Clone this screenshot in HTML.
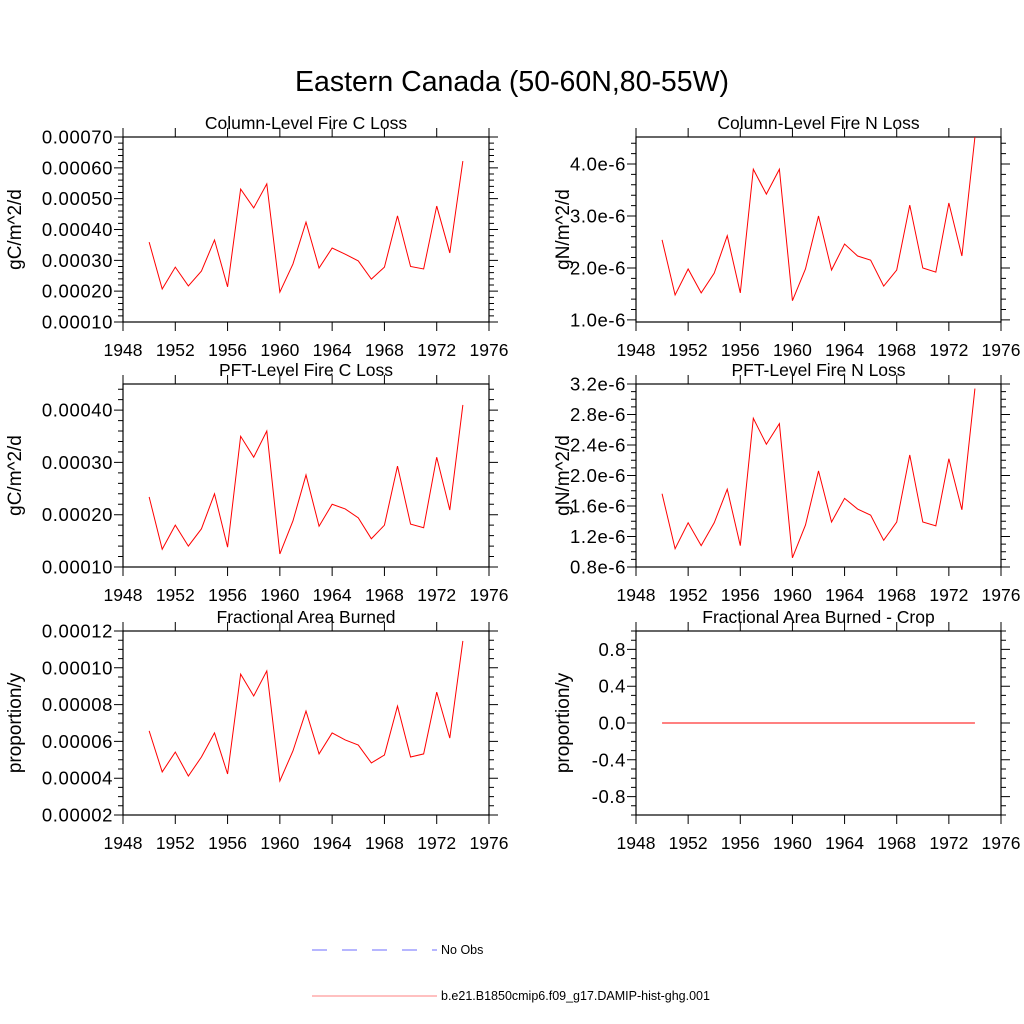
<!DOCTYPE html>
<html><head><meta charset="utf-8"><style>
body{margin:0;background:#fff}
svg{display:block;font-family:"Liberation Sans",sans-serif}
</style></head><body>
<svg id="c" width="1024" height="1024" viewBox="0 0 1024 1024">
<text x="512" y="91" text-anchor="middle" font-size="28.5">Eastern Canada (50-60N,80-55W)</text>
<g>
<line x1="312" y1="950" x2="437" y2="950" stroke="#6d6dff" stroke-width="1" stroke-dasharray="15,15"/>
<text x="441" y="954" font-size="12.5">No Obs</text>
<line x1="312" y1="996" x2="437" y2="996" stroke="#ff8080" stroke-width="1"/>
<text x="441" y="1000" font-size="12.5">b.e21.B1850cmip6.f09_g17.DAMIP-hist-ghg.001</text>
</g>
</svg>
<script>
const years=[1950,1951,1952,1953,1954,1955,1956,1957,1958,1959,1960,1961,1962,1963,1964,1965,1966,1967,1968,1969,1970,1971,1972,1973,1974];
const xTicks=[1948,1952,1956,1960,1964,1968,1972,1976];
const colC=[0.000359,0.000207,0.000278,0.000217,0.000265,0.000366,0.000214,0.000531,0.00047,0.000548,0.000197,0.000288,0.000424,0.000275,0.00034,0.00032,0.000298,0.000239,0.000278,0.000444,0.00028,0.000272,0.000476,0.000324,0.000622];
const colN=[2.54,1.48,1.98,1.52,1.9,2.62,1.52,3.9,3.42,3.9,1.37,1.98,3.0,1.96,2.46,2.23,2.15,1.65,1.96,3.21,2.0,1.92,3.25,2.23,4.52];
const pftC=[0.000234,0.000134,0.00018,0.00014,0.000173,0.00024,0.000138,0.00035,0.00031,0.00036,0.000125,0.000188,0.000276,0.000178,0.00022,0.000211,0.000194,0.000154,0.00018,0.000293,0.000182,0.000175,0.00031,0.000209,0.00041];
const pftN=[1.76,1.04,1.38,1.08,1.38,1.82,1.08,2.75,2.41,2.68,0.92,1.35,2.06,1.39,1.7,1.56,1.48,1.15,1.39,2.27,1.39,1.34,2.22,1.55,3.14];
const fab=[6.57,4.34,5.42,4.12,5.15,6.46,4.23,9.66,8.47,9.83,3.85,5.48,7.65,5.32,6.46,6.08,5.8,4.83,5.26,7.92,5.15,5.32,8.68,6.18,11.46];
const fabCrop=[0,0,0,0,0,0,0,0,0,0,0,0,0,0,0,0,0,0,0,0,0,0,0,0,0];
const ticksColC=["0.00010","0.00020","0.00030","0.00040","0.00050","0.00060","0.00070"];
const ticksColN=["1.0e-6","2.0e-6","3.0e-6","4.0e-6"];
const ticksPftC=["0.00010","0.00020","0.00030","0.00040"];
const ticksPftN=["0.8e-6","1.2e-6","1.6e-6","2.0e-6","2.4e-6","2.8e-6","3.2e-6"];
const ticksFab=["0.00002","0.00004","0.00006","0.00008","0.00010","0.00012"];
const ticksCrop=["-0.8","-0.4","0.0","0.4","0.8"];

const NS="http://www.w3.org/2000/svg";
const svg=document.getElementById('c');
function mk(tag,attrs,parent){const e=document.createElementNS(NS,tag);for(const k in attrs)e.setAttribute(k,attrs[k]);parent.appendChild(e);return e;}

const panels=[
 {id:'column-c',title:'Column-Level Fire C Loss',yl:'gC/m^2/d',x0:123,x1:489,y0:137,y1:322,ymin:0.0001,ymax:0.0007,tv:[0.0001,0.0002,0.0003,0.0004,0.0005,0.0006,0.0007],tl:ticksColC,minor:5,d:colC},
 {id:'column-n',title:'Column-Level Fire N Loss',yl:'gN/m^2/d',x0:636,x1:1001,y0:137,y1:322,ymin:0.96,ymax:4.52,tv:[1,2,3,4],tl:ticksColN,minor:5,d:colN},
 {id:'pft-c',title:'PFT-Level Fire C Loss',yl:'gC/m^2/d',x0:123,x1:489,y0:384,y1:567,ymin:0.0001,ymax:0.00045,tv:[0.0001,0.0002,0.0003,0.0004],tl:ticksPftC,minor:5,d:pftC},
 {id:'pft-n',title:'PFT-Level Fire N Loss',yl:'gN/m^2/d',x0:636,x1:1001,y0:384,y1:567,ymin:0.8,ymax:3.2,tv:[0.8,1.2,1.6,2.0,2.4,2.8,3.2],tl:ticksPftN,minor:4,d:pftN},
 {id:'area-burned',title:'Fractional Area Burned',yl:'proportion/y',x0:123,x1:489,y0:631,y1:815,ymin:2,ymax:12,tv:[2,4,6,8,10,12],tl:ticksFab,minor:4,d:fab},
 {id:'area-burned-crop',title:'Fractional Area Burned - Crop',yl:'proportion/y',x0:636,x1:1001,y0:631,y1:815,ymin:-1,ymax:1,tv:[-0.8,-0.4,0,0.4,0.8],tl:ticksCrop,minor:4,d:fabCrop}
];

panels.forEach(p=>{
 const g=mk('g',{},svg);
 
 
 const X=v=>p.x0+(v-1948)/(1976-1948)*(p.x1-p.x0);
 const Y=v=>p.y1-(v-p.ymin)/(p.ymax-p.ymin)*(p.y1-p.y0);
 const fr=mk('rect',{x:p.x0,y:p.y0,width:p.x1-p.x0,height:p.y1-p.y0,fill:'none',stroke:'#000','stroke-width':1.2},g);
 
 
 let path='';
 xTicks.forEach(yr=>{
  const x=X(yr);
  path+=`M${x},${p.y1}v9M${x},${p.y0}v-9`;
 });
 const step=p.tv[1]-p.tv[0];
 for(let k=-2;k<p.tv.length+2;k++){
  for(let m=0;m<p.minor;m++){
   const v=p.tv[0]+k*step+m*step/p.minor;
   if(v<p.ymin-1e-12||v>p.ymax+1e-12)continue;
   const y=Y(v), L=m===0?9:5;
   path+=`M${p.x0},${y}h${-L}M${p.x1},${y}h${L}`;
  }
 }
 const tk=mk('path',{d:path,stroke:'#000','stroke-width':1,fill:'none'},g);
 
 
 xTicks.forEach(t=>{
  const e=mk('text',{x:X(t),y:p.y1+34,'text-anchor':'middle','font-size':17.5},g);
  e.textContent=t;
  
  
 });
 p.tv.forEach((v,i)=>{
  const e=mk('text',{x:p.x0-10,y:Y(v)+6.5,'text-anchor':'end','font-size':18.5,'letter-spacing':'0.6'},g);
  e.textContent=p.tl[i];
  
  
 });
 const t=mk('text',{x:(p.x0+p.x1)/2,y:p.y0-8,'text-anchor':'middle','font-size':17.5},g);
 t.textContent=p.title;
 
 
 const lx=p.x0<300?21:569, ly=(p.y0+p.y1)/2;
 const yl=mk('text',{x:lx,y:ly,'text-anchor':'middle','font-size':19,transform:`rotate(-90 ${lx} ${ly})`},g);
 yl.textContent=p.yl;
 
 
 const pts=years.map((yr,i)=>X(yr).toFixed(2)+','+Y(p.d[i]).toFixed(2)).join(' ');
 const pl=mk('polyline',{points:pts,fill:'none',stroke:'#ff0000','stroke-width':1},g);
 
 
});
</script>
</body></html>
